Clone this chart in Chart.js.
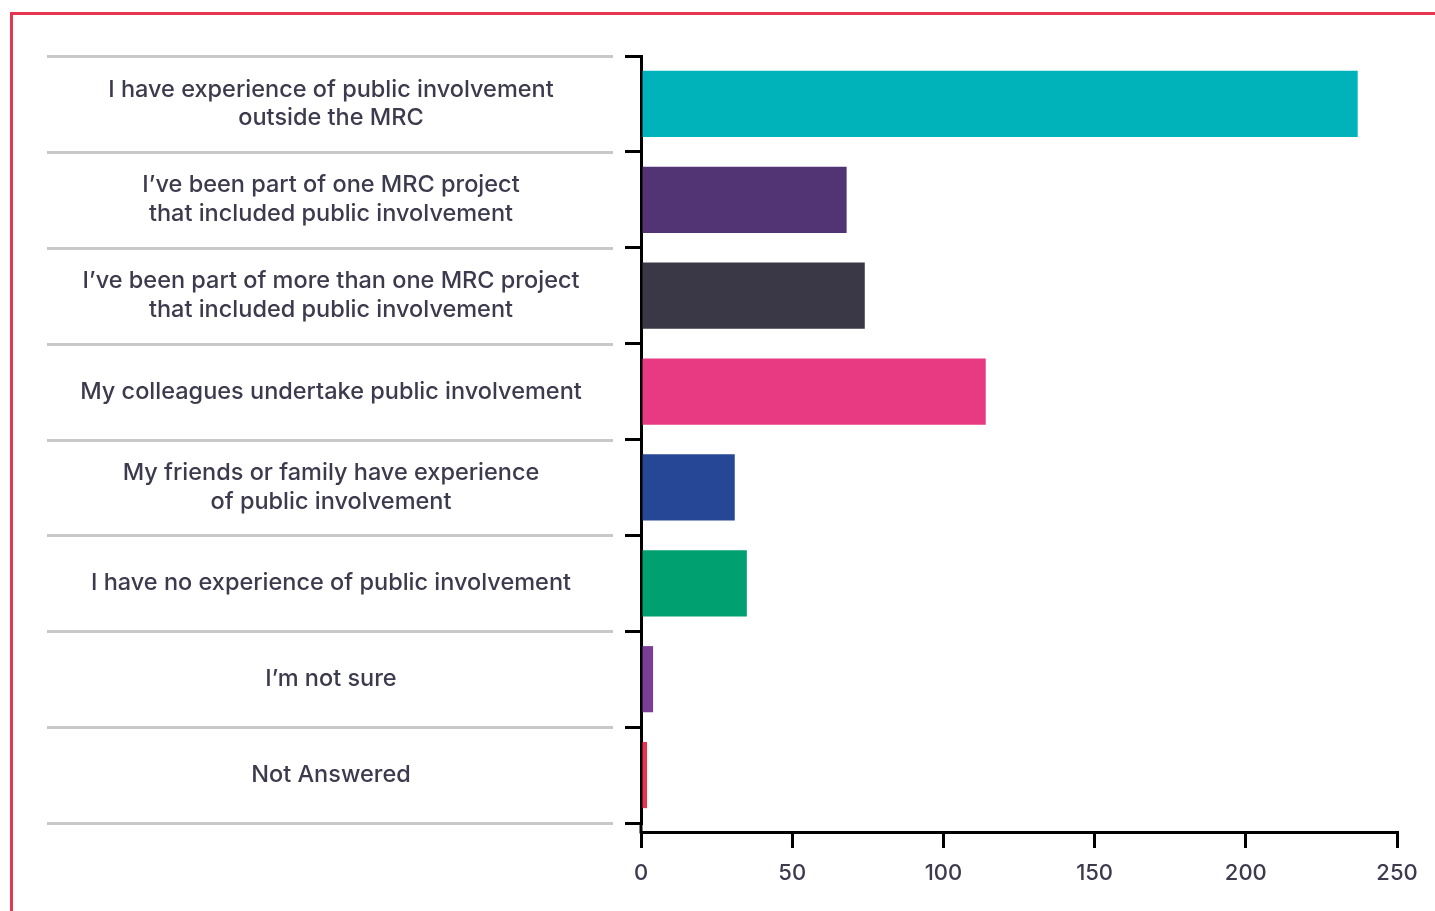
<!DOCTYPE html>
<html>
<head>
<meta charset="utf-8">
<script src="https://cdn.jsdelivr.net/npm/chart.js@4/dist/chart.umd.min.js"></script>
<style>
  html, body { margin: 0; padding: 0; background: #fff; overflow: hidden; }
  #frame {
    position: absolute; left: 10px; top: 12px; width: 1500px; height: 1000px;
    border-top: 3px solid #e8344e; border-left: 3px solid #e8344e;
    box-sizing: border-box;
  }
  #wrap { position: absolute; left: 0; top: 0; width: 1435px; height: 911px; }
</style>
</head>
<body>
<div id="frame"></div>
<div id="wrap"><canvas id="chart" width="1435" height="911"></canvas></div>
<script>
// Survey responses: experience of public involvement
const categories = [
  ["I have experience of public involvement", "outside the MRC"],
  ["I\u2019ve been part of one MRC project", "that included public involvement"],
  ["I\u2019ve been part of more than one MRC project", "that included public involvement"],
  "My colleagues undertake public involvement",
  ["My friends or family have experience", "of public involvement"],
  "I have no experience of public involvement",
  "I\u2019m not sure",
  "Not Answered"
];
const responses = [237, 68, 74, 114, 31, 35, 4, 2];
const barColors = ["#00b2ba", "#523474", "#3a3746", "#e83a82", "#264796", "#00a070", "#7b3e96", "#e8344e"];
const xTicks = [0, 50, 100, 150, 200, 250];

const TEXT = "#3c3b4e";
const LABEL_FONT = { family: "Inter, 'Open Sans', sans-serif", size: 23.5, weight: "500", lineHeight: 1.234 };
const TICK_FONT = { family: "Inter, 'Open Sans', sans-serif", size: 22, weight: "500", lineHeight: 1.2 };
const Y_TICK_LEN = 16;
const LABEL_CENTER = 331;     // horizontal centre of the category labels
const SEP_LEFT = 47, SEP_RIGHT = 613;
const X_AXIS_AT = 7.594;      // y-index where the value axis sits (just below the last row)

// measure the widest label line so the centred labels land on LABEL_CENTER
const mctx = document.createElement("canvas").getContext("2d");
mctx.font = LABEL_FONT.weight + " " + LABEL_FONT.size + "px " + LABEL_FONT.family;
let widest = 0;
categories.forEach(c => [].concat(c).forEach(l => { widest = Math.max(widest, mctx.measureText(l).width); }));

// light grey separators between rows + short extension of the y axis line
const rowLines = {
  id: "rowLines",
  afterDraw(chart) {
    const { ctx } = chart;
    const y = chart.scales.y;
    const x = chart.scales.x;
    ctx.save();
    ctx.strokeStyle = "#c8c8c8";
    ctx.lineWidth = 3;
    for (let i = 0; i <= categories.length; i++) {
      const py = Math.round(y.getPixelForValue(i - 0.5)) + 0.5;
      ctx.beginPath();
      ctx.moveTo(SEP_LEFT, py);
      ctx.lineTo(SEP_RIGHT, py);
      ctx.stroke();
    }
    ctx.strokeStyle = "#000";
    const px = x.getPixelForValue(0);
    ctx.beginPath();
    ctx.moveTo(px, y.getPixelForValue(categories.length - 0.5));
    ctx.lineTo(px, y.getPixelForValue(X_AXIS_AT) + 1.5);
    ctx.stroke();
    ctx.restore();
  }
};

new Chart(document.getElementById("chart"), {
  type: "bar",
  data: {
    labels: categories,
    datasets: [{
      data: responses,
      backgroundColor: barColors,
      borderWidth: 0,
      categoryPercentage: 1,
      barPercentage: 0.69
    }]
  },
  options: {
    indexAxis: "y",
    responsive: false,
    animation: false,
    layout: { padding: { left: 0, top: 56, right: 38, bottom: 88 } },
    plugins: { legend: { display: false }, tooltip: { enabled: false } },
    scales: {
      y: {
        type: "category",
        offset: true,
        grid: { display: true, offset: true, drawOnChartArea: false, drawTicks: true,
                tickLength: Y_TICK_LEN, color: "#000", lineWidth: 3 },
        border: { display: true, color: "#000", width: 3 },
        ticks: {
          color: TEXT, font: LABEL_FONT, crossAlign: "center",
          padding: 641 - Y_TICK_LEN - LABEL_CENTER - widest / 2
        },
        afterFit(scale) {
          scale.width = 641;
          // labels sit inside their rows, so no extra room above/below
          scale.paddingTop = 0;
          scale.paddingBottom = 0;
        }
      },
      x: {
        type: "linear",
        position: { y: X_AXIS_AT },
        min: 0, max: 250,
        afterBuildTicks(scale) { scale.ticks = xTicks.map(v => ({ value: v })); },
        grid: { display: true, drawOnChartArea: false, drawTicks: true,
                tickLength: 14, color: "#000", lineWidth: 3 },
        border: { display: true, color: "#000", width: 3 },
        ticks: { color: TEXT, font: TICK_FONT, padding: 14 }
      }
    }
  },
  plugins: [rowLines]
});
</script>
</body>
</html>
